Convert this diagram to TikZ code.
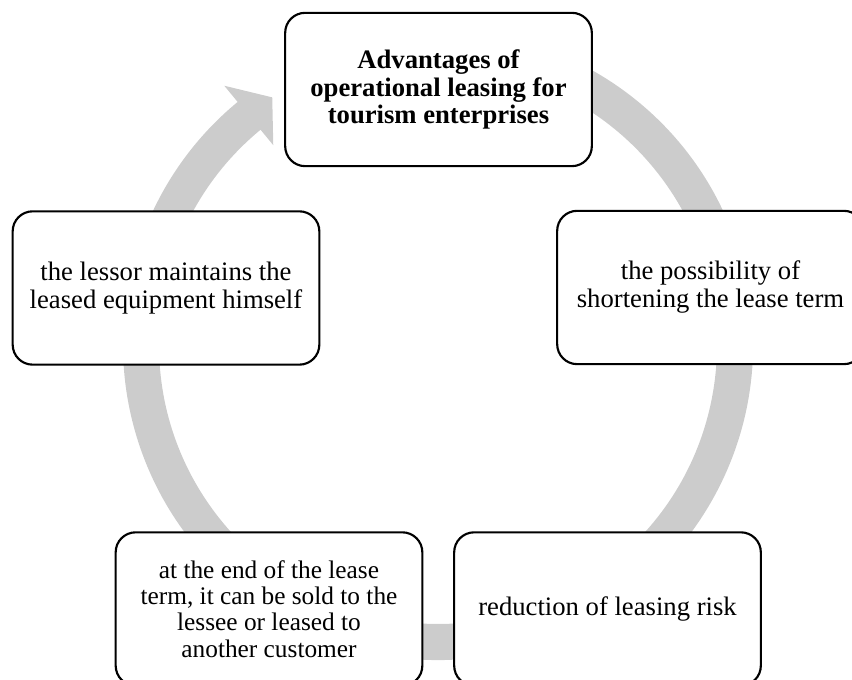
\documentclass[tikz,border=0pt]{standalone}
\usepackage{fontspec}
\setmainfont{Liberation Serif}
\definecolor{ringgray}{RGB}{204,204,204}
\tikzset{
  box/.style={draw=black, line width=1.6pt, fill=white, rounded corners=15pt,
    minimum width=230pt, minimum height=115pt, inner sep=0pt, align=center,
    font=\fontsize{20}{21}\selectfont},
}
\begin{document}
\begin{tikzpicture}[x=0.75pt,y=0.75pt]
\clip (0,0) rectangle (852,680);
\coordinate (C) at (438,335);
% circular block arrow (clockwise), head pointing to the title box
\fill[ringgray]
  ([shift={(105:315)}]C) arc[start angle=105,end angle=-230.5,radius=315]
  -- ([shift={(-230.5:336)}]C)
  -- ([shift={(-236.2:298)}]C)
  -- ([shift={(-230.5:259)}]C)
  -- ([shift={(-230.5:279)}]C)
  arc[start angle=-230.5,end angle=105,radius=279] -- cycle;
% nodes
\node[box, font={\fontsize{20}{20.3}\selectfont\bfseries}] (top) at (438.5,590.5)
  {Advantages of\\operational leasing for\\tourism enterprises};
\node[box] (left) at (166,392) {the lessor maintains the\\leased equipment himself};
\node[box] (right) at (710.5,392.5)
  {\raisebox{-7pt}{\begin{tabular}{@{}c@{}}the possibility of\\shortening the lease term\end{tabular}}};
\node[box, font={\fontsize{19}{19.7}\selectfont}] (bl) at (269,71)
  {at the end of the lease\\term, it can be sold to the\\lessee or leased to\\another customer};
\node[box] (br) at (607.5,71) {reduction of leasing risk};
\end{tikzpicture}
\end{document}
